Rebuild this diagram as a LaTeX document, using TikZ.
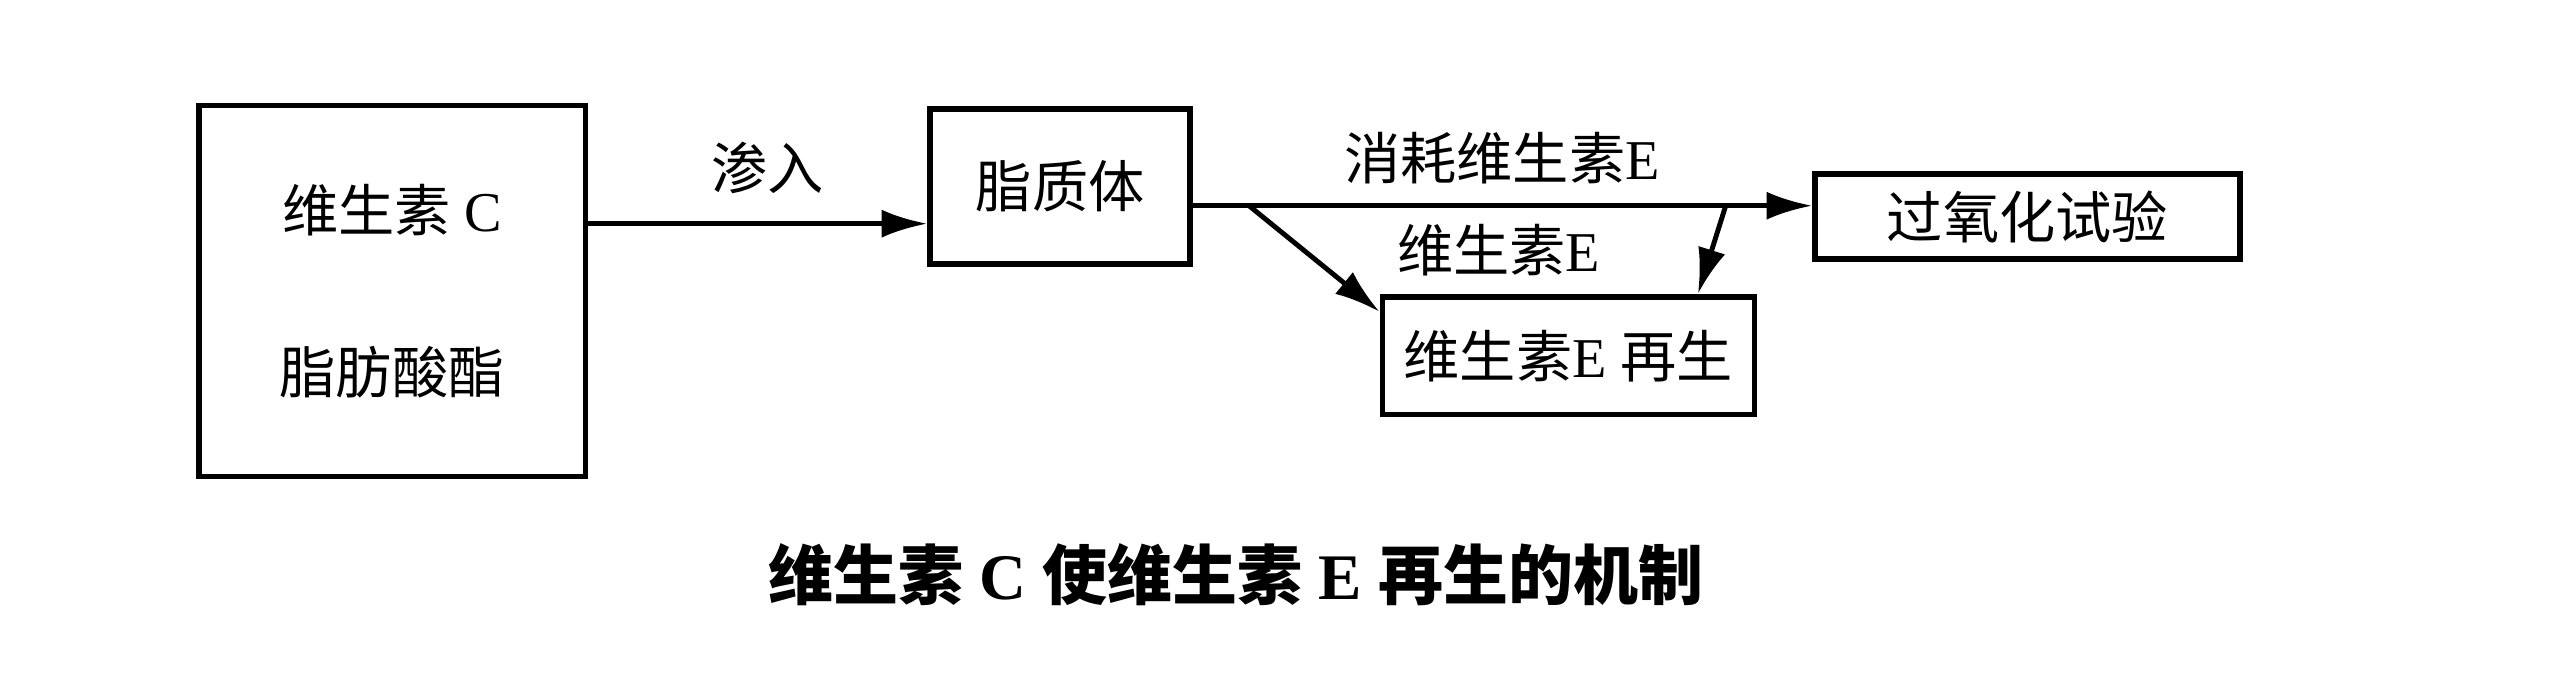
\documentclass[tikz,border=0pt]{standalone}
\usepackage{fontspec}
\setmainfont{Liberation Serif}
\newfontfamily\cjk{Noto Sans CJK SC}
\usetikzlibrary{arrows.meta}
\newcommand{\zh}[1]{{\cjk #1}}

\begin{document}
\begin{tikzpicture}[x=0.1633mm,y=-0.1633mm,
  >={Latex[length=13pt,width=8pt]},line width=1.4pt,
  box/.style={draw,line width=1.6pt,inner sep=0pt,anchor=north west,
    font=\fontsize{16}{46}\selectfont,align=center},
  lbl/.style={font=\fontsize{16}{20}\selectfont}]
  \useasboundingbox (0,0) rectangle (1568,425);
  % boxes
  \node[box,minimum width=38.7mm,minimum height=37.1mm] (vc) at (120,63) {\zh{维生素} C\\\zh{脂肪酸酯}};
  \node[box,minimum width=26mm,minimum height=15.5mm] (lipo) at (568,65) {\zh{脂质体}};
  \node[box,minimum width=42.5mm,minimum height=8.5mm] (perox) at (1110,105) {\zh{过氧化试验}};
  \node[box,minimum width=37.2mm,minimum height=11.8mm] (regen) at (845,180) {\zh{维生素}E \zh{再生}};
  \coordinate (split) at (765,126);
  \coordinate (drop) at (1057,126);
  % arrows
  \draw[->] (vc.east |- 0,137) -- (lipo.west |- 0,137);
  \node[lbl] (seep) at (470,103) {\zh{渗入}};
  \draw[->] (lipo.east |- split) -- (perox.west |- split);
  \node[lbl] (use) at (920,97) {\zh{消耗维生素}E};
  \draw[->] (split) -- (regen.west |- 0,191);
  \draw[->] (drop) -- (regen.north -| 1040,0);
  \node[lbl] (ve) at (918,153) {\zh{维生素}E};
  % caption
  \node[font=\fontsize{18.5}{24}\selectfont\bfseries] (cap) at (757,352)
    {\zh{维生素} C \zh{使维生素} E \zh{再生的机制}};
\end{tikzpicture}
\end{document}
